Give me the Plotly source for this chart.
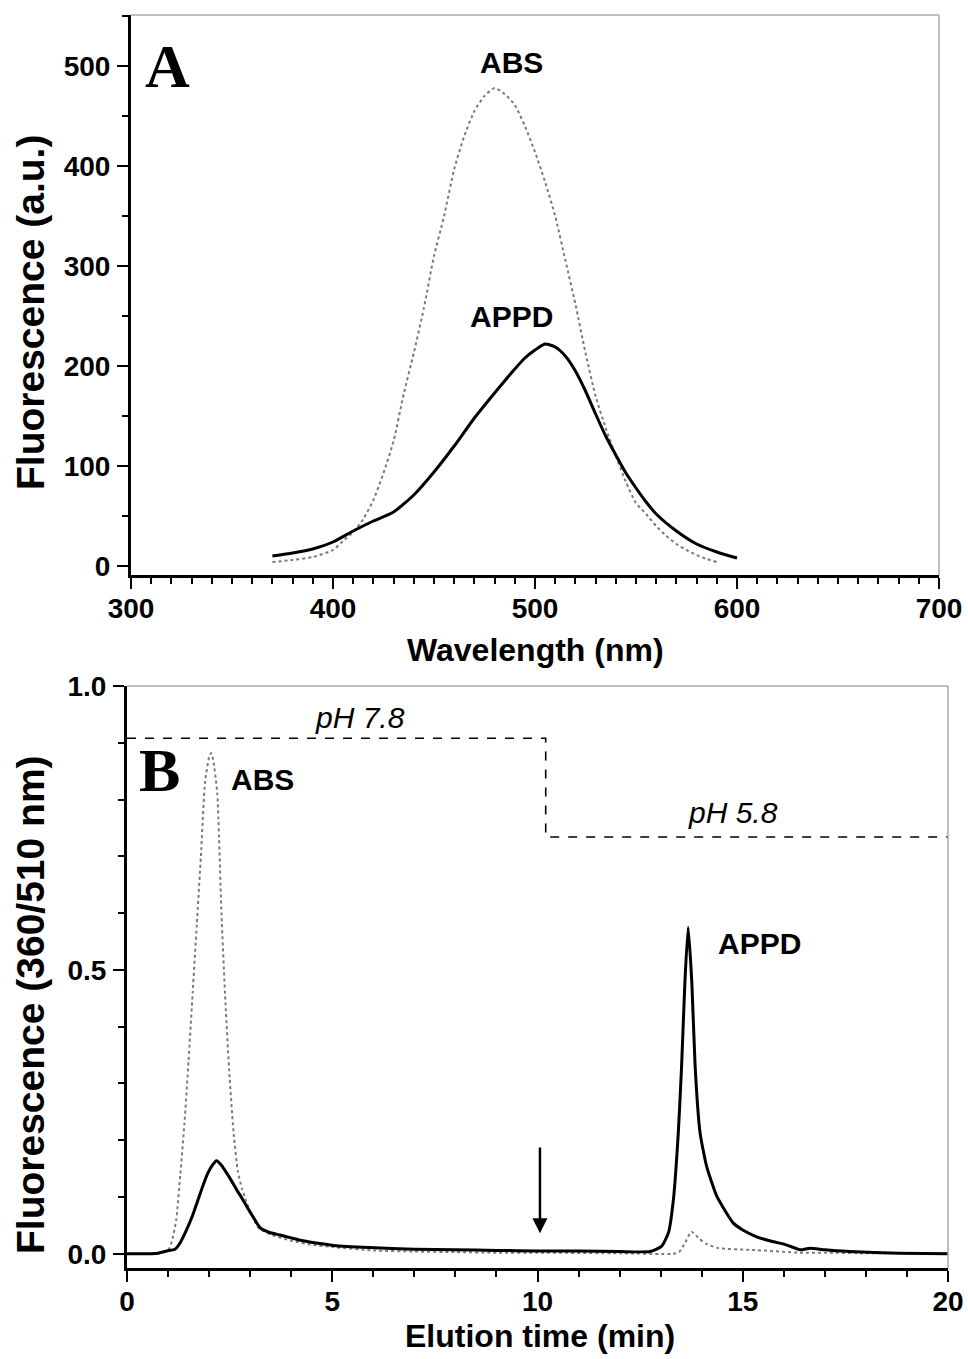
import plotly.graph_objects as go

# ---------------- Panel A: emission spectra ----------------
abs_wl = [370, 380, 390, 400, 405, 410, 415, 420, 425, 430, 435, 440, 445, 450, 455, 460,
          465, 470, 475, 480, 485, 490, 495, 500, 505, 510, 515, 520, 525, 530, 535, 540,
          545, 550, 555, 560, 565, 570, 575, 580, 585, 590]
abs_fl = [4, 6, 9, 16, 25, 34, 47, 66, 93, 125, 172, 213, 258, 310, 350, 397,
          430, 455, 470, 478, 472, 461, 440, 414, 384, 350, 306, 262, 213, 170, 138, 110,
          84, 63, 52, 40, 30, 22, 16, 11, 7, 4]

appd_wl = [370, 380, 390, 400, 410, 420, 430, 440, 450, 460, 470, 480, 490, 495, 500, 505,
           510, 515, 520, 525, 530, 535, 540, 545, 550, 555, 560, 570, 580, 590, 600]
appd_fl = [10, 13, 17, 24, 35, 45, 54, 71, 94, 120, 148, 173, 197, 208, 216, 222,
           219, 210, 195, 175, 152, 130, 111, 93, 78, 64, 52, 35, 22, 14, 8]

# ---------------- Panel B: chromatogram ----------------
abs_t = [0, 0.5, 0.8, 1.0, 1.1, 1.2, 1.3, 1.4, 1.5, 1.6, 1.7, 1.8, 1.9, 2.0, 2.05, 2.1,
         2.2, 2.3, 2.4, 2.5, 2.6, 2.7, 2.8, 2.9, 3.0, 3.2, 3.5, 4.0, 4.5, 5.0, 6.0, 7.0,
         8.0, 9.0, 10.0, 12.0, 13.3, 13.45, 13.6, 13.75, 13.95, 14.1, 14.4, 15.2, 16.4,
         17.0, 18.0, 20.0]
abs_sig = [0, 0, 0.002, 0.006, 0.024, 0.06, 0.14, 0.23, 0.34, 0.46, 0.58, 0.70, 0.83, 0.875, 0.882, 0.87,
           0.81, 0.60, 0.44, 0.31, 0.21, 0.145, 0.115, 0.093, 0.075, 0.046, 0.034, 0.023, 0.016, 0.012, 0.006, 0.004,
           0.003, 0.002, 0.002, 0.001, 0.0, 0.003, 0.02, 0.039, 0.026, 0.018, 0.01, 0.007, 0.002,
           0.002, 0.001, 0.001]

appd_t = [0, 0.5, 0.75, 0.97, 1.17, 1.3, 1.45, 1.6, 1.73, 1.85, 1.97, 2.08, 2.18, 2.3, 2.43, 2.55,
          2.67, 2.8, 2.92, 3.08, 3.24, 3.45, 3.73, 4.0, 4.29, 4.7, 5.1, 5.9, 7.0, 8.0, 9.0, 10.0,
          11.0, 12.0, 12.74, 13.02, 13.19, 13.31, 13.43, 13.51, 13.59, 13.67, 13.76, 13.84, 13.96,
          14.12, 14.37, 14.77, 15.0, 15.34, 15.7, 16.0, 16.2, 16.4, 16.64, 17.0, 17.6, 18.8, 20.0]
appd_sig = [0, 0, 0.001, 0.005, 0.008, 0.02, 0.042, 0.068, 0.095, 0.12, 0.142, 0.156, 0.164, 0.156, 0.142, 0.128,
            0.113, 0.098, 0.083, 0.064, 0.046, 0.038, 0.033, 0.028, 0.023, 0.018, 0.014, 0.011, 0.008, 0.007, 0.006, 0.005,
            0.005, 0.004, 0.004, 0.013, 0.037, 0.095, 0.213, 0.33, 0.477, 0.575, 0.477, 0.33, 0.213,
            0.154, 0.101, 0.054, 0.042, 0.03, 0.022, 0.017, 0.012, 0.007, 0.01, 0.007, 0.004, 0.001, 0.0]

ph_t = [0, 10.2, 10.2, 20]
ph_level = [0.908, 0.908, 0.734, 0.734]
ph_labels = ["pH 7.8", "pH 5.8"]
arrow_t = 10.06

FONT = "Liberation Sans, Arial, sans-serif"
SERIF = "Liberation Serif, Times New Roman, serif"
DOT_GRAY = "#7a7a7a"

W, H = 968.0, 1359.0
OFF = 0.0  # body margin removed by post_script


def fx(px):
    return (px - OFF) / W


def fy(py):
    return 1 - (py - OFF) / H


fig = go.Figure()

fig.add_trace(go.Scatter(x=abs_wl, y=abs_fl, mode="lines", xaxis="x", yaxis="y",
                         line=dict(color=DOT_GRAY, width=2, dash="dot", shape="spline", smoothing=0.6),
                         showlegend=False))
fig.add_trace(go.Scatter(x=appd_wl, y=appd_fl, mode="lines", xaxis="x", yaxis="y",
                         line=dict(color="black", width=3, shape="spline", smoothing=0.6),
                         showlegend=False))

fig.add_trace(go.Scatter(x=ph_t, y=ph_level, mode="lines", xaxis="x2", yaxis="y2",
                         line=dict(color="black", width=1.6, dash="dash"), showlegend=False))
fig.add_trace(go.Scatter(x=abs_t, y=abs_sig, mode="lines", xaxis="x2", yaxis="y2",
                         line=dict(color=DOT_GRAY, width=2, dash="dot", shape="spline", smoothing=0.5),
                         showlegend=False))
fig.add_trace(go.Scatter(x=appd_t, y=appd_sig, mode="lines", xaxis="x2", yaxis="y2",
                         line=dict(color="black", width=3, shape="spline", smoothing=0.5),
                         showlegend=False))

tickfont = dict(family=FONT, size=28, color="black", weight="bold")

common = dict(showline=True, linecolor="black", linewidth=3, ticks="outside", ticklen=11,
              tickwidth=2, tickcolor="black", showgrid=False, zeroline=False,
              tickfont=tickfont, automargin=False)
minor_common = dict(ticks="outside", ticklen=6, tickwidth=2, tickcolor="black")

fig.update_layout(
    width=968, height=1359, margin=dict(l=0, r=0, t=0, b=0, autoexpand=False),
    paper_bgcolor="white", plot_bgcolor="white",
    xaxis=dict(domain=[fx(131), fx(939)], range=[300, 700], dtick=100, anchor="y",
               ticklabelstandoff=-5, minor=dict(dtick=10, **minor_common), **common),
    yaxis=dict(domain=[fy(575), fy(15)], range=[-9, 551], dtick=100, anchor="x",
               ticklabelstandoff=1, minor=dict(dtick=50, **minor_common), **common),
    xaxis2=dict(domain=[fx(127), fx(948)], range=[0, 20], dtick=5, anchor="y2",
                ticklabelstandoff=-5, minor=dict(dtick=1, **minor_common), **common),
    yaxis2=dict(domain=[fy(1268), fy(686)], range=[-0.025, 1.0], dtick=0.5, tickformat=".1f",
                anchor="x2", ticklabelstandoff=1, minor=dict(dtick=0.1, **minor_common), **common),
)

# gray top/right frame lines
for xr, yr in (("x domain", "y domain"), ("x2 domain", "y2 domain")):
    fig.add_shape(type="line", xref=xr, yref=yr, x0=0, x1=1, y0=1, y1=1,
                  line=dict(color="#a8a8a8", width=1.5))
    fig.add_shape(type="line", xref=xr, yref=yr, x0=1, x1=1, y0=0, y1=1,
                  line=dict(color="#a8a8a8", width=1.5))

xt_font = dict(family=FONT, size=32, color="black", weight="bold")
yt_font = dict(family=FONT, size=39, color="black", weight="bold")
lab = dict(family=FONT, size=30, color="black", weight="bold")
C = dict(xanchor="center", yanchor="middle", showarrow=False)
ann = [
    # axis titles
    dict(x=fx(535), y=fy(650), xref="paper", yref="paper", text="Wavelength (nm)",
         font=xt_font, **C),
    dict(x=fx(30), y=fy(313), xref="paper", yref="paper", text="Fluorescence (a.u.)",
         font=yt_font, textangle=-90, **C),
    dict(x=fx(540), y=fy(1336), xref="paper", yref="paper", text="Elution time (min)",
         font=xt_font, **C),
    dict(x=fx(30), y=fy(1005), xref="paper", yref="paper", text="Fluorescence (360/510 nm)",
         font=yt_font, textangle=-90, **C),
    # panel labels
    dict(x=318, y=500, xref="x", yref="y", text="A",
         font=dict(family=SERIF, size=62, color="black", weight="bold"), **C),
    dict(x=488.6, y=504, xref="x", yref="y", text="ABS", font=lab, **C),
    dict(x=488.6, y=250, xref="x", yref="y", text="APPD", font=lab, **C),
    dict(x=0.8, y=0.852, xref="x2", yref="y2", text="B",
         font=dict(family=SERIF, size=62, color="black", weight="bold"), **C),
    dict(x=3.31, y=0.835, xref="x2", yref="y2", text="ABS", font=lab, **C),
    dict(x=15.4, y=0.546, xref="x2", yref="y2", text="APPD", font=lab, **C),
    dict(x=5.67, y=0.944, xref="x2", yref="y2", text=ph_labels[0],
         font=dict(family=FONT, size=30, color="black", style="italic"), **C),
    dict(x=14.76, y=0.778, xref="x2", yref="y2", text=ph_labels[1],
         font=dict(family=FONT, size=30, color="black", style="italic"), **C),
    dict(x=arrow_t, y=0.036, ax=arrow_t, ay=0.19, xref="x2", yref="y2", axref="x2", ayref="y2",
         text="", showarrow=True, arrowhead=2, arrowsize=1.2, arrowwidth=2.5, arrowcolor="black"),
]
fig.update_layout(annotations=ann)

fig.write_html(
    "out.html",
    config={"displayModeBar": False},
    post_script="document.body.style.margin='0';document.body.style.overflow='hidden';",
)
